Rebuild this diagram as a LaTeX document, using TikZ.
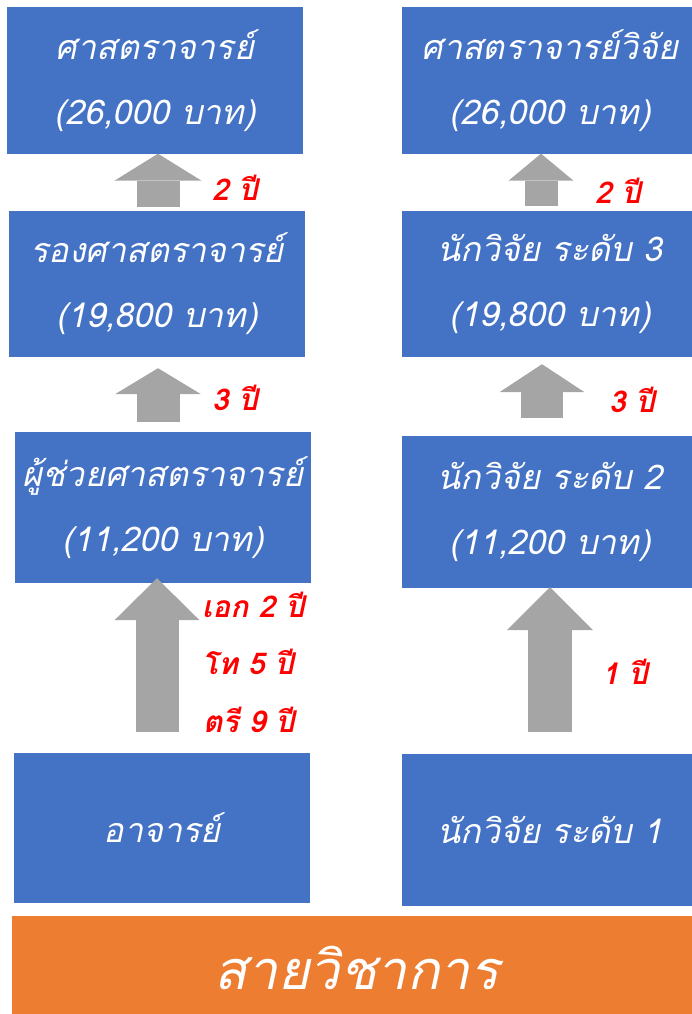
\documentclass[tikz,border=0pt]{standalone}
\usepackage{fontspec}
\newfontfamily\thaifont[Script=Thai]{Loma}
\usetikzlibrary{arrows.meta}
\definecolor{rankblue}{RGB}{68,114,196}
\definecolor{trackorange}{RGB}{237,125,49}
\definecolor{stepgray}{RGB}{165,165,165}
\tikzset{
  rankbox/.style={rectangle, fill=rankblue, text=white, align=center,
                  minimum width=296pt, minimum height=146pt, inner sep=0pt,
                  font=\fontsize{34}{65}\selectfont\thaifont\itshape},
  trackbar/.style={rectangle, fill=trackorange, text=white,
                   minimum width=690pt, minimum height=104pt, inner sep=0pt,
                   font=\fontsize{54}{60}\selectfont\thaifont\itshape},
  yearlbl/.style={text=red, inner sep=0pt,
                  font=\fontsize{30}{34}\selectfont\thaifont\bfseries\itshape},
}

\begin{document}
\begin{tikzpicture}[x=1pt, y=-1pt]
  \useasboundingbox (0,0) rectangle (692,1014);
  % academic track
  \node[rankbox] (prof)  at (155,80.5) {ศาสตราจารย์\\(26,000 บาท)};
  \node[rankbox] (assoc) at (157,284)  {รองศาสตราจารย์\\(19,800 บาท)};
  \node[rankbox, minimum height=151pt] (asst) at (163,507.5) {ผู้ช่วยศาสตราจารย์\\(11,200 บาท)};
  \node[rankbox, minimum height=150pt] (lect) at (162,828) {อาจารย์};
  % research track
  \node[rankbox] (rprof) at (550,80.5) {ศาสตราจารย์วิจัย\\(26,000 บาท)};
  \node[rankbox] (res3)  at (550,284)  {นักวิจัย ระดับ 3\\(19,800 บาท)};
  \node[rankbox, minimum height=152pt] (res2) at (550,512) {นักวิจัย ระดับ 2\\(11,200 บาท)};
  \node[rankbox, minimum height=152pt] (res1) at (550,830) {นักวิจัย ระดับ 1};
  \node[trackbar] (track) at (357,968) {สายวิชาการ};

  % promotion steps
  \foreach \lo/\hi/\x/\w/\hw/\hl/\s/\e in {
      assoc/prof/158/43/87/27/4/0, asst/assoc/158/43/86/26/10/11,
      lect/asst/157/43/85/42/21/-5, res3/rprof/541/33/65/27/5/0,
      res2/res3/542/42/85/28/18/7, res1/res2/550/44/86/43/22/-1}
    \draw[stepgray, line width=\w pt, shorten <=\s pt, shorten >=\e pt,
          -{Triangle[length=\hl pt, width=\hw pt, line width=0pt]}]
      (\x,0 |- \lo.north) -- (\x,0 |- \hi.south);

  \node[yearlbl] (y1) at (235,188) {2 ปี};
  \node[yearlbl] (y2) at (235,398) {3 ปี};
  \node[yearlbl, anchor=west] (y3) at (202,605) {เอก 2 ปี};
  \node[yearlbl, anchor=west] (y4) at (202,662) {โท 5 ปี};
  \node[yearlbl, anchor=west] (y5) at (203,720) {ตรี 9 ปี};
  \node[yearlbl] (y6) at (618,191) {2 ปี};
  \node[yearlbl] (y7) at (632,400) {3 ปี};
  \node[yearlbl] (y8) at (625,672) {1 ปี};
\end{tikzpicture}
\end{document}
